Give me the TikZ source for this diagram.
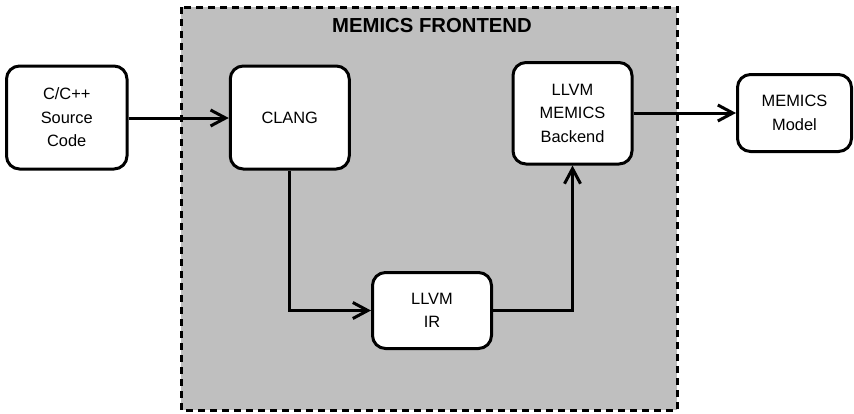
\documentclass[tikz,border=0pt]{standalone}
\usepackage{fontspec}
\setmainfont{Liberation Sans}
\usetikzlibrary{arrows.meta}
\definecolor{framegray}{RGB}{191,191,191}
\begin{document}
\begin{tikzpicture}[x=1pt,y=-1pt,
  box/.style={draw=black, line width=3pt, fill=white, rounded corners=13pt,
    inner sep=0pt, align=center, font=\fontsize{16.4}{23.5}\selectfont},
  conn/.style={line width=3pt, -{Straight Barb[length=15pt,width=16pt,line width=3pt]}},
  frontend/.style={draw=black, fill=framegray, line width=3pt, dash pattern=on 7pt off 5pt}]
\useasboundingbox (0,0) rectangle (854,413);
\draw[frontend] (181,7) rectangle (677,410);
\node[anchor=base, font=\bfseries\fontsize{20.3}{24}\selectfont] (title) at (432,32) {MEMICS FRONTEND};
\node[box, minimum width=120.5pt, minimum height=103pt] (src) at (66.75,117.5) {C/C++\\Source\\Code};
\node[box, minimum width=119pt, minimum height=103pt] (clang) at (289.75,117.5) {CLANG};
\node[box, minimum width=119pt, minimum height=101.5pt] (backend) at (572.5,113.25) {LLVM\\MEMICS\\Backend};
\node[box, minimum width=114pt, minimum height=77pt] (model) at (794.5,113) {MEMICS\\Model};
\node[box, minimum width=119pt, minimum height=76pt] (ir) at (432,310.5) {LLVM\\IR};
\draw[conn] (src.east |- 0,118) -- (clang.west |- 0,118);
\draw[conn] (clang.south) |- (ir.west);
\draw[conn] (ir.east) -| (backend.south);
\draw[conn] (backend.east |- 0,113) -- (model.west |- 0,113);
\end{tikzpicture}
\end{document}
